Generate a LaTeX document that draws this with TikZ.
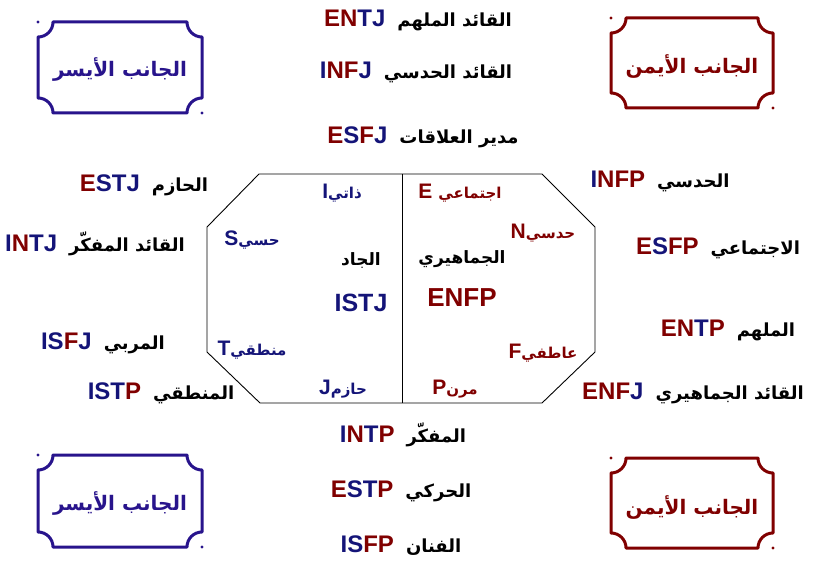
\documentclass[tikz,border=0pt]{standalone}
\usepackage{fontspec}
\setmainfont{Liberation Sans}
\newfontfamily\arfont[Script=Arabic]{DejaVu Sans}
\TeXXeTstate=1
\definecolor{mred}{RGB}{128,0,0}
\definecolor{mblue}{RGB}{20,20,120}
\definecolor{bxblue}{RGB}{40,20,140}
\definecolor{bxred}{RGB}{128,0,0}
\newcommand\rd[1]{\textcolor{mred}{#1}}
\newcommand\bl[1]{\textcolor{mblue}{#1}}
\newcommand\arb[1]{{\arfont\bfseries\fontsize{18}{21}\selectfont\beginR #1\endR}}
\newcommand\ari[1]{{\arfont\bfseries\fontsize{15}{18}\selectfont\beginR #1\endR}}
\newcommand\arm[1]{{\arfont\bfseries\fontsize{17}{20}\selectfont\beginR #1\endR}}
\newcommand\arc[1]{{\arfont\bfseries\fontsize{20}{24}\selectfont\beginR #1\endR}}
\newcommand\sidebox[5]{% x0 y0 x1 y1 colour
  \draw[line width=3pt,#5,line join=round]
    ({#1+15},#2) -- ({#3-15},#2)
    .. controls ({#3-15},{#2+8.3}) and ({#3-8.3},{#2+15}) .. (#3,{#2+15})
    -- (#3,{#4-15})
    .. controls ({#3-8.3},{#4-15}) and ({#3-15},{#4-8.3}) .. ({#3-15},#4)
    -- ({#1+15},#4)
    .. controls ({#1+15},{#4-8.3}) and ({#1+8.3},{#4-15}) .. (#1,{#4-15})
    -- (#1,{#2+15})
    .. controls ({#1+8.3},{#2+15}) and ({#1+15},{#2+8.3}) .. ({#1+15},#2) -- cycle;
  \fill[#5] (#1,#2) circle[radius=1.6];
  \fill[#5] (#3,#4) circle[radius=1.6];}
\tikzset{
  lbl/.style={font=\bfseries\fontsize{24}{28}\selectfont, inner sep=0pt, anchor=base},
  ilbl/.style={font=\bfseries\fontsize{21}{25}\selectfont, inner sep=0pt, anchor=base},
  clbl/.style={inner sep=0pt, anchor=center},
  octo/.style={line width=0.9pt, black}
}
\begin{document}
\begin{tikzpicture}[x=1pt,y=-1pt]
\useasboundingbox (0,0) rectangle (813,564);
% corner boxes
\sidebox{38}{22}{202}{113}{bxblue}
\sidebox{611}{18}{773}{108}{bxred}
\sidebox{38}{455}{202}{547}{bxblue}
\sidebox{611}{458}{773}{548}{bxred}
\node[clbl,text=bxblue] (tl) at (120,70) {\arc{الجانب الأيسر}};
\node[clbl,text=bxred] (tr) at (692,67) {\arc{الجانب الأيمن}};
\node[clbl,text=bxblue] (bl) at (120,503) {\arc{الجانب الأيسر}};
\node[clbl,text=bxred] (br) at (692,507) {\arc{الجانب الأيمن}};
% octagon
\coordinate (o1) at (259,174); \coordinate (o2) at (542,174);
\coordinate (o3) at (595,227); \coordinate (o4) at (595,352);
\coordinate (o5) at (542,403); \coordinate (o6) at (260,403);
\coordinate (o7) at (207,352); \coordinate (o8) at (207,227);
\coordinate (dt) at (402,174); \coordinate (db) at (402,403);
\draw[octo] (o1) -- (o2) -- (o3) -- (o4) -- (o5) -- (o6) -- (o7) -- (o8) -- cycle;
\draw[octo] (dt) -- (db);
% top labels
\node[lbl] (entj) at (418,27) {\rd{E}\rd{N}\bl{T}\bl{J}\hspace{12pt}\arb{القائد الملهم}};
\node[lbl] (infj) at (416,79) {\bl{I}\rd{N}\rd{F}\bl{J}\hspace{12pt}\arb{القائد الحدسي}};
\node[lbl] (esfj) at (423,144) {\rd{E}\bl{S}\rd{F}\bl{J}\hspace{12pt}\arb{مدير العلاقات}};
% left labels
\node[lbl] (estj) at (144,191) {\rd{E}\bl{S}\bl{T}\bl{J}\hspace{12pt}\arb{الحازم}};
\node[lbl] (intj) at (95,251) {\bl{I}\rd{N}\bl{T}\bl{J}\hspace{12pt}\arb{القائد المفكّر}};
\node[lbl] (isfj) at (103,349) {\bl{I}\bl{S}\rd{F}\bl{J}\hspace{12pt}\arb{المربي}};
\node[lbl] (istp) at (161,399) {\bl{I}\bl{S}\bl{T}\rd{P}\hspace{12pt}\arb{المنطقي}};
% right labels
\node[lbl] (infp) at (660,187) {\bl{I}\rd{N}\rd{F}\rd{P}\hspace{12pt}\arb{الحدسي}};
\node[lbl] (esfp) at (718,254) {\rd{E}\bl{S}\rd{F}\rd{P}\hspace{12pt}\arb{الاجتماعي}};
\node[lbl] (entp) at (728,336) {\rd{E}\rd{N}\bl{T}\rd{P}\hspace{12pt}\arb{الملهم}};
\node[lbl] (enfj) at (693,399) {\rd{E}\rd{N}\rd{F}\bl{J}\hspace{12pt}\arb{القائد الجماهيري}};
% bottom labels
\node[lbl] (intp) at (403,442) {\bl{I}\rd{N}\bl{T}\rd{P}\hspace{12pt}\arb{المفكّر}};
\node[lbl] (estp) at (401,497) {\rd{E}\bl{S}\bl{T}\rd{P}\hspace{12pt}\arb{الحركي}};
\node[lbl] (isfp) at (401,552) {\bl{I}\bl{S}\rd{F}\rd{P}\hspace{12pt}\arb{الفنان}};
% inside octagon
\node[ilbl,text=mblue] (qi) at (342,198) {I\ari{ذاتي}};
\node[ilbl,text=mred] (qe) at (460,198) {E\hspace{6pt}\ari{اجتماعي}};
\node[ilbl,text=mblue] (qs) at (252,245) {S\ari{حسي}};
\node[ilbl,text=mred] (qn) at (543,238) {N\ari{حدسي}};
\node[clbl] (jad) at (361,261) {\arm{الجاد}};
\node[clbl] (jam) at (462,259) {\arm{الجماهيري}};
\node[lbl,text=mblue,font=\bfseries\fontsize{25}{28}\selectfont] (istj) at (361,311) {ISTJ};
\node[lbl,text=mred,font=\bfseries\fontsize{26}{28}\selectfont] (enfp) at (462,306) {ENFP};
\node[ilbl,text=mblue] (qt) at (252,355) {T\ari{منطقي}};
\node[ilbl,text=mred] (qf) at (543,358) {F\ari{عاطفي}};
\node[ilbl,text=mblue] (qj) at (343,394) {J\ari{حازم}};
\node[ilbl,text=mred] (qp) at (455,394) {P\ari{مرن}};
\end{tikzpicture}
\end{document}
